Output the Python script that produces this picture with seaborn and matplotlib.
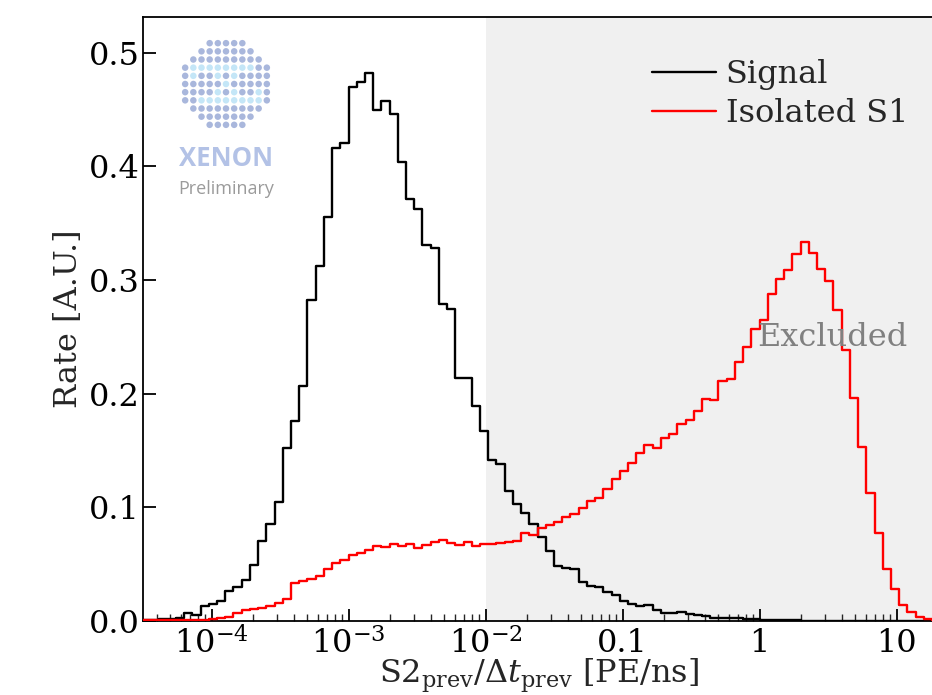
import numpy as np
import matplotlib
matplotlib.use("Agg")
import matplotlib.pyplot as plt
from matplotlib.lines import Line2D
from matplotlib.ticker import FixedLocator, FixedFormatter, LogLocator, NullFormatter
import seaborn as sns

# ---------------- data ----------------
log_bin_range = (-4.5, 1.5)   # log10 of bin range
n_bins = 100

signal = [
    0.001, 0.001, 0.0015, 0.002, 0.003, 0.007, 0.0055, 0.0135, 0.015, 0.018,
    0.026, 0.030, 0.036, 0.049, 0.070, 0.085, 0.105, 0.152, 0.176, 0.207,
    0.282, 0.312, 0.355, 0.416, 0.420, 0.470, 0.474, 0.482, 0.449, 0.457,
    0.446, 0.404, 0.371, 0.362, 0.331, 0.328, 0.279, 0.274, 0.214, 0.214,
    0.189, 0.167, 0.142, 0.138, 0.114, 0.103, 0.095, 0.085, 0.074, 0.062,
    0.048, 0.047, 0.046, 0.034, 0.031, 0.030, 0.0255, 0.0225, 0.0175, 0.015,
    0.0135, 0.014, 0.010, 0.0068, 0.0073, 0.008, 0.006, 0.005, 0.0042, 0.003,
    0.0025, 0.0028, 0.0025, 0.002, 0.0015, 0.0012, 0.001, 0.0008, 0.0006, 0.0005,
    0.0004, 0.0003, 0.0003, 0.0002, 0.0002, 0.0002, 0.0001, 0.0001, 0.0001, 0.0001,
    0.0, 0.0, 0.0, 0.0, 0.0, 0.0, 0.0, 0.0, 0.0, 0.0,
]

isolated_s1 = [
    0.0005, 0.0005, 0.0006, 0.0008, 0.001, 0.001, 0.0012, 0.0013, 0.0018, 0.0023,
    0.0038, 0.0068, 0.0097, 0.0103, 0.0115, 0.013, 0.016, 0.019, 0.033, 0.0355,
    0.037, 0.040, 0.046, 0.051, 0.0536, 0.0578, 0.060, 0.0626, 0.0658, 0.065,
    0.068, 0.066, 0.0677, 0.064, 0.0668, 0.0692, 0.0712, 0.0683, 0.0668, 0.0698,
    0.066, 0.0677, 0.0677, 0.0683, 0.0692, 0.0707, 0.0771, 0.0756, 0.0815, 0.0844,
    0.0873, 0.0918, 0.0938, 0.0997, 0.1055, 0.1079, 0.1158, 0.1246, 0.1319, 0.1387,
    0.1475, 0.1548, 0.1519, 0.1612, 0.1645, 0.173, 0.1768, 0.1847, 0.1953, 0.1944,
    0.2114, 0.2125, 0.228, 0.241, 0.2565, 0.2647, 0.288, 0.3005, 0.3087, 0.3228,
    0.3336, 0.324, 0.310, 0.2993, 0.2735, 0.2383, 0.1958, 0.1527, 0.1123, 0.0771,
    0.0454, 0.0281, 0.0141, 0.0076, 0.0032, 0.0018, 0.001, 0.0005, 0.0003, 0.0002,
]

series_labels = ["Signal", "Isolated S1"]
series_colors = ["black", "#ff0000"]

xtick_values = [1e-4, 1e-3, 1e-2, 0.1, 1, 10]
xtick_labels = [r"$10^{-4}$", r"$10^{-3}$", r"$10^{-2}$", "0.1", "1", "10"]
ytick_values = [0.0, 0.1, 0.2, 0.3, 0.4, 0.5]
ytick_labels = ["0.0", "0.1", "0.2", "0.3", "0.4", "0.5"]
excluded_from = 1e-2

# ---------------- style ----------------
sns.set_style("ticks")
plt.rcParams["font.family"] = ["DejaVu Serif"]
plt.rcParams["mathtext.fontset"] = "dejavuserif"
FS = 23

W, H = 932, 695
fig = plt.figure(figsize=(W / 100, H / 100), dpi=100)
left_px, right_px, top_px, bottom_px = 143, 935, 17, 621
ax = fig.add_axes([left_px / W, 1 - bottom_px / H,
                   (right_px - left_px) / W, (bottom_px - top_px) / H])

# bin centres in data units (derived from the log bin range)
log_w = (log_bin_range[1] - log_bin_range[0]) / n_bins
centers = 10 ** (log_bin_range[0] + log_w * (np.arange(n_bins) + 0.5))

ax.axvspan(excluded_from, 1e3, color="#f0f0f0", zorder=0, lw=0)

for vals, lab, col in zip([signal, isolated_s1], series_labels, series_colors):
    sns.histplot(x=centers, weights=vals, bins=n_bins, binrange=log_bin_range,
                 log_scale=True, element="step", fill=False, color=col,
                 linewidth=1.7, ax=ax, label=lab, zorder=3)

ax.set_xscale("log")
x_right = 10 ** (-4.5 + (right_px - left_px) / 137.0)
ax.set_xlim(10 ** -4.5, x_right)
ax.set_ylim(0, (bottom_px - top_px) / 1137.0)

ax.xaxis.set_major_locator(FixedLocator(xtick_values))
ax.xaxis.set_major_formatter(FixedFormatter(xtick_labels))
ax.xaxis.set_minor_locator(LogLocator(base=10, subs=np.arange(2, 10), numticks=20))
ax.xaxis.set_minor_formatter(NullFormatter())
ax.yaxis.set_major_locator(FixedLocator(ytick_values))
ax.yaxis.set_major_formatter(FixedFormatter(ytick_labels))

ax.tick_params(axis="both", which="major", direction="in", length=9, width=1.3,
               labelsize=FS, colors="black")
ax.tick_params(axis="x", which="major", pad=5)
ax.tick_params(axis="y", which="major", pad=2.5)
ax.tick_params(axis="x", which="minor", direction="in", length=5, width=1.0)
for s in ax.spines.values():
    s.set_linewidth(1.3)
    s.set_color("black")

ax.set_xlabel(r"S2$_\mathrm{prev}$/$\Delta t_\mathrm{prev}$ [PE/ns]", fontsize=FS, labelpad=-3)
ax.set_ylabel("Rate [A.U.]", fontsize=FS, labelpad=3)

handles = [Line2D([0], [0], color=c, lw=1.7) for c in series_colors]
ax.legend(handles, series_labels, loc="upper right", frameon=False, fontsize=FS,
          bbox_to_anchor=(921 / W, 1 - 46 / H), bbox_transform=fig.transFigure,
          handlelength=2.0, handletextpad=0.3, labelspacing=0.25, borderaxespad=0)

ax.text((757 - left_px) / (right_px - left_px), (bottom_px - 337) / (bottom_px - top_px),
        "Excluded", transform=ax.transAxes, ha="left", va="center",
        fontsize=FS, color="#808080", zorder=4)

# ---------------- XENON "Preliminary" logo ----------------
lax = fig.add_axes([176 / W, 1 - 133 / H, 100 / W, 98 / H])
lax.set_xlim(-6, 6)
lax.set_ylim(-6, 6)
lax.set_aspect("equal")
lax.axis("off")
gx, gy, gc = [], [], []
for i in range(-6, 7):
    for j in range(-6, 7):
        if i * i + j * j <= 5.6 ** 2 - 0.5:
            gx.append(i)
            gy.append(j)
            cyan = (j in (2, -2) and abs(i) <= 3) or (abs(i) == abs(j) and abs(i) <= 2) \
                or (i == -4 and j in (1, 2)) or (i == 4 and j in (-1, -2))
            gc.append("#c4e6f7" if cyan else "#a9b7dc")
lax.scatter(gx, gy, s=22, c=gc, linewidths=0)

fig.text(226 / W, 1 - 158 / H, "XENON", ha="center", va="center", fontsize=18.5,
         fontweight="bold", family=["Open Sans", "DejaVu Sans"], color="#b3c2e6")
fig.text(226 / W, 1 - 189 / H, "Preliminary", ha="center", va="center", fontsize=13,
         family=["Open Sans", "DejaVu Sans"], color="#9b9b9b")

fig.savefig("out.png", dpi=100)
